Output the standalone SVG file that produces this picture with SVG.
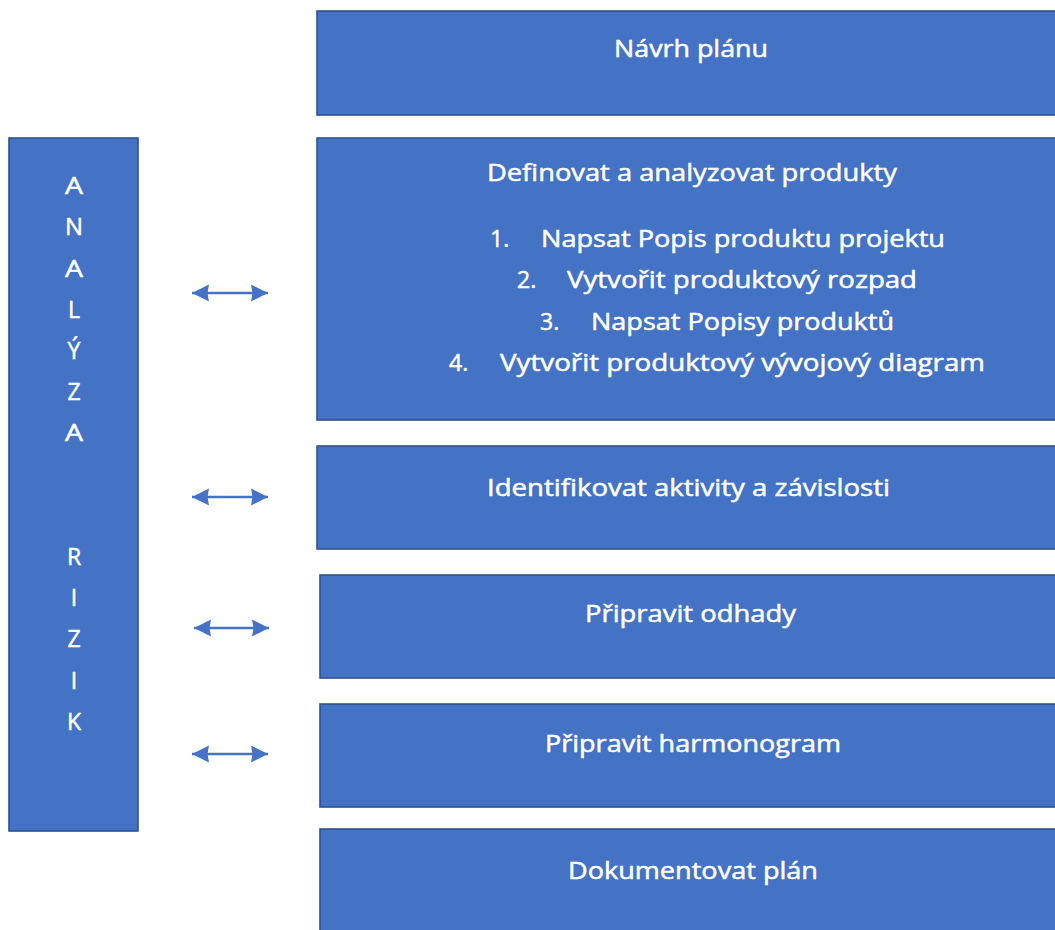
<svg xmlns="http://www.w3.org/2000/svg" width="1055" height="930" viewBox="0 0 1055 930">
  <style>
    .box { fill: #4472C4; stroke: #2F528F; stroke-width: 1.6; }
    .t { fill: #FFFFFF; stroke: #FFFFFF; stroke-width: 0.5; font-family: "Open Sans", "Liberation Sans", sans-serif; font-size: 23px; }
    .c { text-anchor: middle; }
    .conn { stroke: #4472C4; stroke-width: 2.5; fill: none; marker-start: url(#ah); marker-end: url(#ah); }
  </style>
  <defs>
    <marker id="ah" markerUnits="userSpaceOnUse" markerWidth="18" markerHeight="18" refX="17" refY="8.5" orient="auto-start-reverse" viewBox="0 0 18 17">
      <path d="M0,0 L17,8.5 L0,17 L1.5,8.5 z" fill="#4472C4"/>
    </marker>
  </defs>
  <rect width="1055" height="930" fill="#FFFFFF"/>

  <g id="analyza-rizik">
    <rect class="box" x="9" y="138" width="129" height="693"/>
    <g class="t c">
      <text x="74" y="194" textLength="18" lengthAdjust="spacingAndGlyphs">A</text>
      <text x="74" y="235" textLength="18" lengthAdjust="spacingAndGlyphs">N</text>
      <text x="74" y="277" textLength="18" lengthAdjust="spacingAndGlyphs">A</text>
      <text x="74" y="318">L</text>
      <text x="74" y="359">Ý</text>
      <text x="74" y="400">Z</text>
      <text x="74" y="441" textLength="18" lengthAdjust="spacingAndGlyphs">A</text>
      <text x="74" y="565">R</text>
      <text x="74" y="606">I</text>
      <text x="74" y="647">Z</text>
      <text x="74" y="689">I</text>
      <text x="74" y="730">K</text>
    </g>
  </g>

  <g id="navrh-planu">
    <rect class="box" x="317" y="11" width="760" height="104"/>
    <text class="t" x="614" y="57" textLength="154" lengthAdjust="spacingAndGlyphs">Návrh plánu</text>
  </g>

  <g id="definovat">
    <rect class="box" x="317" y="138" width="760" height="282"/>
    <text class="t" x="487" y="181" textLength="410" lengthAdjust="spacingAndGlyphs">Definovat a analyzovat produkty</text>
    <text class="t" x="490" y="247">1.</text>
    <text class="t" x="541" y="247" textLength="404" lengthAdjust="spacingAndGlyphs">Napsat Popis produktu projektu</text>
    <text class="t" x="517" y="288">2.</text>
    <text class="t" x="567" y="288" textLength="350" lengthAdjust="spacingAndGlyphs">Vytvořit produktový rozpad</text>
    <text class="t" x="540" y="330">3.</text>
    <text class="t" x="591" y="330" textLength="303" lengthAdjust="spacingAndGlyphs">Napsat Popisy produktů</text>
    <text class="t" x="449" y="371">4.</text>
    <text class="t" x="500" y="371" textLength="485" lengthAdjust="spacingAndGlyphs">Vytvořit produktový vývojový diagram</text>
  </g>

  <g id="identifikovat">
    <rect class="box" x="317" y="446" width="760" height="103"/>
    <text class="t" x="487" y="496" textLength="403" lengthAdjust="spacingAndGlyphs">Identifikovat aktivity a závislosti</text>
  </g>

  <g id="odhady">
    <rect class="box" x="320" y="575" width="760" height="103"/>
    <text class="t" x="585" y="622" textLength="211" lengthAdjust="spacingAndGlyphs">Připravit odhady</text>
  </g>

  <g id="harmonogram">
    <rect class="box" x="320" y="704" width="760" height="103"/>
    <text class="t" x="545" y="752" textLength="296" lengthAdjust="spacingAndGlyphs">Připravit harmonogram</text>
  </g>

  <g id="dokumentovat">
    <rect class="box" x="320" y="829" width="760" height="120"/>
    <text class="t" x="568" y="879" textLength="250" lengthAdjust="spacingAndGlyphs">Dokumentovat plán</text>
  </g>

  <g id="connectors">
    <line class="conn" x1="192" y1="293" x2="268" y2="293"/>
    <line class="conn" x1="192" y1="497" x2="268" y2="497"/>
    <line class="conn" x1="194" y1="628" x2="269" y2="628"/>
    <line class="conn" x1="192" y1="754" x2="268" y2="754"/>
  </g>
</svg>
